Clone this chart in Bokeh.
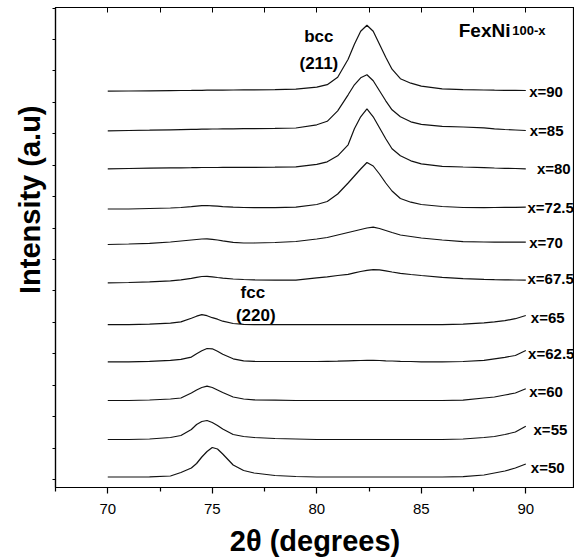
from bokeh.plotting import figure
from bokeh.models import Range1d, FixedTicker, LinearAxis, Title, ColumnDataSource
from bokeh.core.properties import value
from bokeh.embed import file_html
from bokeh.resources import INLINE

# 2-theta sampling positions (degrees)
two_theta = [70, 71, 72, 73, 73.5, 74, 74.25, 74.5, 74.75, 75, 75.25, 75.5, 76, 76.5, 77,
             78, 79, 80, 80.5, 81, 81.5, 81.8, 82.1, 82.4, 82.7, 83, 83.3, 83.6, 84, 84.5,
             85, 86, 87, 88, 88.5, 89, 89.5, 90]

# compositions (bottom to top)
compositions = ["x=50", "x=55", "x=60", "x=62.5", "x=65", "x=67.5", "x=70", "x=72.5",
                "x=80", "x=85", "x=90"]

# vertical offsets of the stacked patterns (a.u.)
offsets = [2.5, 40, 79, 117.7, 154.8, 196.7, 235, 270.5, 310.7, 348.7, 388.3]

# intensities above each pattern's baseline (a.u.)
i_50 = [0, 0, 0.2, 1, 4.5, 9, 13.5, 20, 25.5, 29.5, 28, 23, 12, 6.5, 4, 1.5, 0.5,
        0, 0, 0, 0, 0, 0, 0, 0, 0, 0, 0, 0, 0, 0, 0,
        0.3, 2, 4, 6, 9, 13]
i_55 = [0, 0, 0.5, 2, 4, 10, 15, 18, 19, 17, 14, 10.5, 5, 3, 2, 1, 0.5,
        0, 0, 0, 0, 0, 0, 0, 0, 0, 0, 0, 0, 0, 0, 0,
        0.5, 2, 3, 5, 7.5, 13.3]
i_60 = [0, 0, 0.5, 1.5, 2.5, 7.5, 10.5, 13, 14.3, 13, 10.5, 8, 3.5, 1.5, 0.7, 0.3, 0,
        0, 0, 0, 0, 0, 0, 0, 0, 0, 0, 0, 0, 0, 0, 0,
        0.3, 2.5, 3.5, 5.5, 7.5, 11.7]
i_625 = [0, 0, 0.5, 1.5, 2.5, 4.7, 8, 11, 13.3, 13, 10.5, 7.5, 3, 1, 0.5, 0.3, 0.3,
         0.3, 0.5, 0.7, 1, 1.2, 1.3, 1.5, 1.5, 1.3, 1, 0.8, 0.5, 0.3, 0, 0,
         0.3, 1.5, 3, 4.5, 6.3, 11.3]
i_65 = [0, 0, 0.5, 1.5, 2.8, 6.5, 8.5, 10, 9, 7, 5.5, 3.5, 1.2, 0.3, 0, 0, 0,
        0, 0, 0, 0, 0, 0, 0, 0, 0, 0, 0, 0, 0, 0, 0,
        0.5, 1.8, 2.8, 4, 6, 9.2]
i_675 = [0, 0.3, 1, 2, 3, 4.5, 5.5, 6.3, 6.5, 6, 5.3, 4.7, 3.8, 3.3, 3, 2.7, 2.6,
         5, 6, 7.3, 8.5, 10, 11.3, 12.5, 13.2, 13, 12, 10.8, 9.5, 8.3, 7.3, 5.5,
         4.2, 3.5, 3.2, 3, 2.8, 2.6]
i_70 = [0, 0.5, 1.2, 2.5, 3.5, 4.5, 5, 5.5, 5.7, 5.2, 4.5, 3.7, 2.2, 1.5, 1.5, 2, 3,
        5.5, 7, 9.5, 12, 13.5, 15, 16.5, 17.3, 16, 14, 12, 9.5, 8, 6.5, 4.5,
        2.8, 2.5, 2.4, 2.3, 2.3, 2.3]
i_725 = [0, 0, 0.5, 1, 1.5, 2.3, 2.8, 3.3, 3.5, 3.2, 2.8, 2.4, 1.8, 1.5, 1.3, 1.3, 1.8,
         4.5, 7.5, 15, 26, 33, 40, 46.5, 43, 35, 26, 18, 10.5, 6.8, 4.5, 2.5,
         1.5, 1.3, 1.5, 1.6, 1.7, 1.8]
i_80 = [0, 0.3, 0.6, 0.9, 1, 1.1, 1.2, 1.3, 1.3, 1.3, 1.3, 1.4, 1.4, 1.5, 1.5, 1.6, 2,
        4.5, 7, 13, 24, 40, 52, 60, 52, 41, 30, 20, 13, 8, 5, 2.5,
        1.8, 1.2, 0.8, 0.5, 0.3, 0]
i_85 = [0, 0.3, 0.6, 1, 1.2, 1.4, 1.5, 1.6, 1.7, 1.8, 1.8, 1.9, 2, 2.1, 2.2, 2.4, 2.8,
        6, 9.5, 20, 36, 46, 53, 56, 50, 40, 30, 21, 14, 9, 6.5, 4.5,
        3.8, 3, 2, 1.3, 0.8, 0.3]
i_90 = [0, 0.2, 0.4, 0.6, 0.7, 0.8, 0.9, 0.9, 1, 1, 1, 1.1, 1.2, 1.3, 1.4, 1.6, 2,
        4, 6.5, 14, 32, 47, 60, 66, 60, 47, 34, 22, 12.5, 8, 5, 2.4,
        1.6, 1.2, 1, 0.9, 0.8, 0.7]

intensities = [i_50, i_55, i_60, i_625, i_65, i_675, i_70, i_725, i_80, i_85, i_90]

# composition label anchor points
label_x = [90.24, 90.37, 90.16, 90.11, 90.24, 90.08, 90.16, 90.08, 90.53, 90.19, 90.16]
label_y = [12.3, 50, 88, 126.3, 162.3, 201, 237.3, 272.3, 310.7, 349, 388.3]

x_major = [70, 75, 80, 85, 90]
x_minor = [67.5, 72.5, 77.5, 82.5, 87.5, 92.5]
y_ticks = [round(k * 31.43, 2) for k in range(16)]

FONT = "Liberation Sans"

p = figure(width=574, height=560, output_backend="svg", toolbar_location=None,
           x_range=Range1d(67.5, 92.33), y_range=Range1d(-8, 472),
           min_border_left=55, min_border_right=0, min_border_top=7, min_border_bottom=73)
p.background_fill_color = "white"
p.border_fill_color = "white"
p.outline_line_color = "black"
p.outline_line_width = 1.2
p.xgrid.visible = False
p.ygrid.visible = False

# bottom axis
xa = p.xaxis[0]
xa.ticker = FixedTicker(ticks=x_major, minor_ticks=x_minor)
xa.axis_label = "2\u03b8 (degrees)"
xa.axis_label_text_font = FONT
xa.axis_label_text_font_style = "bold"
xa.axis_label_text_font_size = "29px"
xa.axis_label_text_color = "black"
xa.axis_label_standoff = 8
xa.major_label_text_font = FONT
xa.major_label_text_font_size = "15px"
xa.major_label_text_color = "black"
xa.major_label_standoff = 10
xa.major_tick_in = 0
xa.major_tick_out = 6
xa.minor_tick_in = 0
xa.minor_tick_out = 4
xa.axis_line_width = 1.2
xa.major_tick_line_width = 1.2
xa.minor_tick_line_width = 1.2

# left axis (ticks only)
ya = p.yaxis[0]
ya.ticker = FixedTicker(ticks=y_ticks, minor_ticks=[])
ya.major_label_text_font_size = "0px"
ya.major_label_text_color = None
ya.major_label_standoff = 0
ya.major_tick_in = 0
ya.major_tick_out = 3
ya.minor_tick_out = 0
ya.axis_line_width = 1.2

# top axis with inward ticks
ta = LinearAxis(ticker=FixedTicker(ticks=x_major, minor_ticks=x_minor))
ta.major_label_text_font_size = "0px"
ta.major_label_text_color = None
ta.major_label_standoff = 0
ta.major_tick_in = 5
ta.major_tick_out = 0
ta.minor_tick_in = 5
ta.minor_tick_out = 0
ta.axis_line_width = 1.2
p.add_layout(ta, "above")

# y axis title
p.add_layout(Title(text="Intensity (a.u)", align="right", offset=98, standoff=10,
                   vertical_align="top",
                   text_font=FONT, text_font_style="bold", text_font_size="29px",
                   text_color="black"), "left")

# patterns
for off, vals in zip(offsets, intensities):
    p.line(two_theta, [off + v for v in vals], line_color="#111111", line_width=1.2)

# composition labels
src = ColumnDataSource(dict(x=label_x, y=label_y, t=compositions))
p.text(x="x", y="y", text="t", source=src, text_font=value(FONT), text_font_style="bold",
       text_font_size="15px", text_align="left", text_baseline="middle", text_color="black")

# peak annotations
ann_x = [80.10, 80.10, 76.94, 77.08]
ann_y = [443, 416.3, 187.3, 164]
ann_t = ["bcc", "(211)", "fcc", "(220)"]
p.text(x=ann_x, y=ann_y, text=ann_t, text_font=value(FONT), text_font_style="bold",
       text_font_size="17px", text_align="center", text_baseline="middle", text_color="black")

# composition formula
p.text(x=[86.79], y=[449.3], text=["FexNi"], text_font=value(FONT), text_font_style="bold",
       text_font_size="19px", text_align="left", text_baseline="alphabetic", text_color="black")
p.text(x=[89.35], y=[449.3], text=["100-x"], text_font=value(FONT), text_font_style="bold",
       text_font_size="13px", text_align="left", text_baseline="alphabetic", text_color="black")

open("out.html", "w").write(file_html(p, INLINE))
